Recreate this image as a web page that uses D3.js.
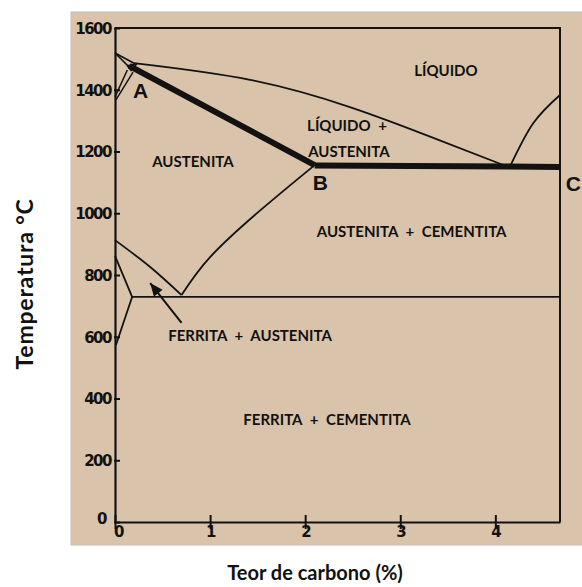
<!DOCTYPE html>
<html>
<head>
<meta charset="utf-8">
<script src="https://cdn.jsdelivr.net/npm/d3@7"></script>
<style>
  html, body { margin: 0; padding: 0; background: #ffffff; }
  svg { display: block; }
</style>
</head>
<body>
<svg id="chart" width="582" height="587"></svg>
<script>
// ---- data (carbon %, temperature °C) ----
const xTicks = [0, 1, 2, 3, 4];
const yTicks = [0, 200, 400, 600, 800, 1000, 1200, 1400, 1600];
const xMax = 4.68;
const yMax = 1600;

const liquidusStart = [[0, 1519], [0.2, 1486]];
const liquidus = [[0.2, 1486], [1.42, 1432], [2.47, 1344], [3.3, 1250], [4.07, 1158]];
const solidusAB = [[0.15, 1477], [2.1, 1156]];
const eutectic = [[2.1, 1155], [4.68, 1150]];
const hyperLiquidus = [[4.16, 1155], [4.4, 1292], [4.68, 1383]];
const acm = [[0.70, 735], [1.0, 858], [1.53, 1010], [2.1, 1156]];
const a3 = [[0, 913], [0.37, 826], [0.70, 735]];
const eutectoid = [[0.18, 729], [4.68, 729]];
const ferrite = [[0, 862], [0.18, 729], [0.01, 573]];
const deltaLow = [[0, 1519], [0.16, 1470]];
const deltaA = [[0, 1377], [0.13, 1464]];
const deltaB = [[0.01, 1367], [0.19, 1457]];
const deltaTri = [[0.13, 1478], [0.23, 1484], [0.17, 1462], [0.13, 1478]];
const arrow = [[0.70, 645], [0.37, 774]];

const regionLabels = ["LÍQUIDO", "LÍQUIDO +", "AUSTENITA", "AUSTENITA", "AUSTENITA + CEMENTITA", "FERRITA + AUSTENITA", "FERRITA + CEMENTITA"];
const regionC = [3.48, 2.44, 2.46, 0.82, 3.12, 1.42, 2.23];
const regionT = [1457, 1279, 1195, 1163, 936, 599, 327];

const pointLabels = ["A", "B", "C"];
const pointC = [0.19, 2.08, 4.74];
const pointT = [1373, 1076, 1072];

const xTitle = "Teor de carbono (%)";
const yTitle = "Temperatura °C";

// ---- drawing ----
const svg = d3.select("#chart");
const ink = "#141210";

svg.append("rect").attr("x", 71).attr("y", 12).attr("width", 520).attr("height", 533)
  .attr("fill", "#d9c4ab").attr("stroke", "#c4c0bb").attr("stroke-width", 1);

const x = d3.scaleLinear().domain([0, xMax]).range([115, 560]);
const y = d3.scaleLinear().domain([0, yMax]).range([522, 28]);

const g = svg.append("g");

// frame: top & right
g.append("path").attr("d", d3.line()([[x(0), y(yMax)], [x(xMax), y(yMax)], [x(xMax), y(0)]]))
  .attr("fill", "none").attr("stroke", ink).attr("stroke-width", 2);

// axes
const yAxis = d3.axisLeft(y).tickValues(yTicks).tickSize(0).tickPadding(4).tickFormat(d3.format("d"));
const xAxis = d3.axisBottom(x).tickValues(xTicks).tickSize(0).tickPadding(9).tickFormat(d3.format("d"));

const ya = g.append("g").attr("transform", `translate(${x(0)},0)`).call(yAxis);
const xa = g.append("g").attr("transform", `translate(0,${y(0)})`).call(xAxis);
[ya, xa].forEach(a => {
  a.select(".domain").attr("stroke", ink).attr("stroke-width", 2.2);
  a.selectAll("text").attr("fill", ink)
    .style("font-family", "'DejaVu Sans', sans-serif").style("font-weight", "bold")
    .style("font-size", "15px").style("letter-spacing", "-1.5px");
});
ya.selectAll("text").attr("dy", "0.35em");
ya.selectAll(".tick").append("line").attr("x1", -1).attr("x2", 5).attr("stroke", ink).attr("stroke-width", 2);
xa.selectAll(".tick").append("line").attr("y1", -7).attr("y2", 7).attr("stroke", ink).attr("stroke-width", 2);
xa.selectAll(".tick text").attr("dy", "0.4em");
ya.select(".tick:first-of-type text").attr("dy", "0.1em").attr("x", -9);
xa.select(".tick:first-of-type text").attr("dx", "3px");

// curves
const smooth = d3.line().x(d => x(d[0])).y(d => y(d[1])).curve(d3.curveNatural);
const straight = d3.line().x(d => x(d[0])).y(d => y(d[1]));

function draw(data, gen, w) {
  g.append("path").attr("d", gen(data)).attr("fill", "none")
    .attr("stroke", ink).attr("stroke-width", w).attr("stroke-linejoin", "round");
}
draw(liquidusStart, straight, 1.8);
draw(liquidus, smooth, 1.8);
draw(hyperLiquidus, smooth, 1.8);
draw(acm, smooth, 1.8);
draw(a3, smooth, 1.8);
draw(eutectoid, straight, 1.6);
draw(ferrite, straight, 1.8);
draw(deltaLow, straight, 1.6);
draw(deltaA, straight, 1.5);
draw(deltaB, straight, 1.5);
draw(deltaTri, straight, 1.5);
draw(solidusAB, straight, 6);
draw(eutectic, straight, 6);

// arrow
draw(arrow, straight, 2);
{
  const [p0, p1] = arrow.map(d => [x(d[0]), y(d[1])]);
  const ang = Math.atan2(p1[1] - p0[1], p1[0] - p0[0]);
  const L = 13, W = 5.5;
  const bx = p1[0] - L * Math.cos(ang), by = p1[1] - L * Math.sin(ang);
  const pts = [p1, [bx + W * Math.sin(ang), by - W * Math.cos(ang)], [bx - W * Math.sin(ang), by + W * Math.cos(ang)]];
  g.append("path").attr("d", d3.line()(pts) + "Z").attr("fill", ink);
}

// region labels
g.selectAll("text.region").data(regionLabels).join("text").attr("class", "region")
  .attr("x", (d, i) => x(regionC[i])).attr("y", (d, i) => y(regionT[i]))
  .attr("text-anchor", "middle").attr("dominant-baseline", "middle")
  .attr("fill", "#111")
  .style("font-family", "Lato, 'Open Sans', sans-serif").style("font-weight", "bold").style("font-size", "15px")
  .style("word-spacing", "4px")
  .text(d => d);

// point labels
g.selectAll("text.pt").data(pointLabels).join("text").attr("class", "pt")
  .attr("x", (d, i) => x(pointC[i])).attr("y", (d, i) => y(pointT[i]))
  .attr("fill", "#111")
  .style("font-family", "'Liberation Sans', Arial, sans-serif").style("font-weight", "bold").style("font-size", "21px")
  .text(d => d);

// axis titles
svg.append("text").attr("x", 315).attr("y", 580).attr("text-anchor", "middle")
  .attr("fill", "#111").style("font-family", "Lato, sans-serif").style("font-weight", "bold").style("font-size", "20px")
  .text(xTitle);
svg.append("text").attr("transform", "translate(33,284) rotate(-90)").attr("text-anchor", "middle")
  .attr("fill", "#111").style("font-family", "Lato, sans-serif").style("font-weight", "bold").style("font-size", "23px")
  .style("letter-spacing", "0.8px")
  .text(yTitle);
</script>
</body>
</html>
